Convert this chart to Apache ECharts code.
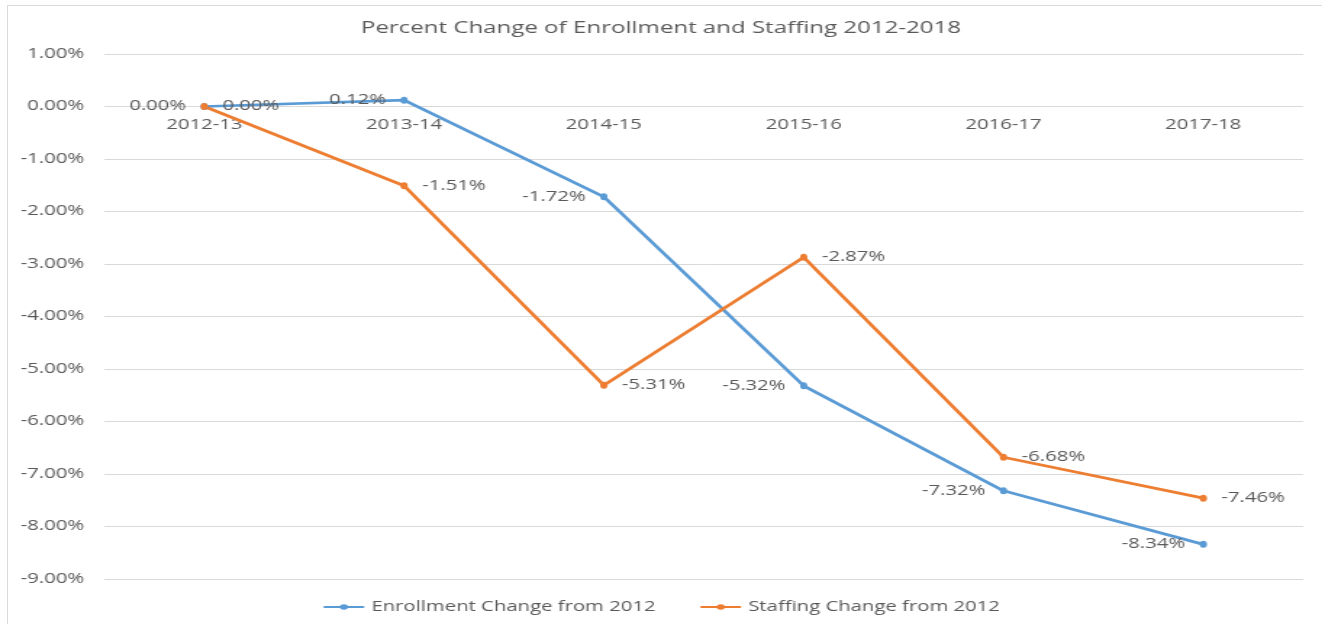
<!DOCTYPE html>
<html>
<head>
<meta charset="utf-8">
<script src="https://cdn.jsdelivr.net/npm/echarts@6/dist/echarts.min.js"></script>
<style>
  html, body { margin: 0; padding: 0; background: #fff; overflow: hidden; }
  /* the reference is a horizontally stretched screenshot, so draw narrow and stretch */
  #chart {
    width: 912px; height: 624px;
    transform: scaleX(1.4496); transform-origin: 0 0;
  }
  .frame {
    position: absolute; left: 7px; top: 5px; width: 1400px; height: 700px;
    border: 1px solid #d9d9d9; pointer-events: none;
  }
</style>
</head>
<body>
<div class="frame"></div>
<div id="chart"></div>
<script>
const years = ['2012-13', '2013-14', '2014-15', '2015-16', '2016-17', '2017-18'];
const enrollment = [0.00, 0.12, -1.72, -5.32, -7.32, -8.34];
const staffing = [0.00, -1.51, -5.31, -2.87, -6.68, -7.46];

const textColor = '#595959';
const font = 'Open Sans';

const chart = echarts.init(document.getElementById('chart'));

function lineSeries(name, data, color, labelPos) {
  return {
    name,
    type: 'line',
    data,
    symbol: 'circle',
    symbolSize: [5, 7],
    lineStyle: { width: 2.75, color },
    itemStyle: { color },
    label: {
      show: true,
      position: labelPos,
      distance: 10,
      color: textColor,
      fontFamily: font,
      fontSize: 14,
      formatter: (p) => p.value.toFixed(2) + '%',
    },
  };
}

chart.setOption({
  animation: false,
  title: {
    text: 'Percent Change of Enrollment and Staffing 2012-2018',
    left: 'center',
    top: 15,
    textStyle: { color: textColor, fontFamily: font, fontSize: 16.6, fontWeight: 'normal' },
  },
  legend: {
    bottom: 5,
    left: 'center',
    itemGap: 30,
    itemWidth: 28,
    itemHeight: 7,
    textStyle: { color: textColor, fontFamily: font, fontSize: 14 },
    data: ['Enrollment Change from 2012', 'Staffing Change from 2012'],
  },
  grid: { left: 72, right: 13, top: 54, bottom: 45 },
  xAxis: {
    type: 'category',
    data: years,
    offset: -472,
    axisLine: { show: false, onZero: false },
    axisTick: { show: false },
    axisLabel: { color: textColor, fontFamily: font, fontSize: 14, margin: 11 },
  },
  yAxis: {
    type: 'value',
    min: -9,
    max: 1,
    interval: 1,
    axisLine: { show: false },
    axisTick: { show: false },
    splitLine: { lineStyle: { color: '#d9d9d9' } },
    axisLabel: {
      color: textColor, fontFamily: font, fontSize: 14, margin: 14,
      formatter: (v) => v.toFixed(2) + '%',
    },
  },
  series: [
    lineSeries('Enrollment Change from 2012', enrollment, '#5B9BD5', 'left'),
    lineSeries('Staffing Change from 2012', staffing, '#ED7D31', 'right'),
  ],
});
</script>
</body>
</html>
